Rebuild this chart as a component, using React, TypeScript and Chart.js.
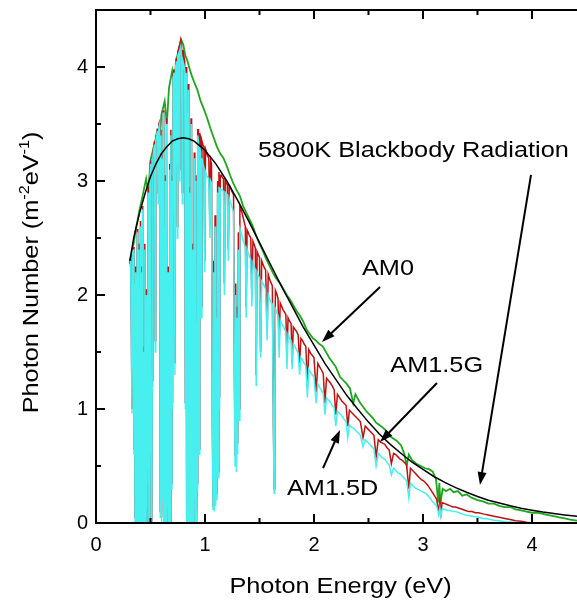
import { useEffect, useRef } from 'react';
import { Chart, registerables } from 'chart.js';

Chart.register(...registerables);

const FONT = '"Liberation Sans", Arial, Helvetica, sans-serif';
const STRETCH = 1.15;

// ---- axis ticks ----
const xMajorTicks = [0, 1, 2, 3, 4];
const xMinorTicks = [0.5, 1.5, 2.5, 3.5];
const yMajorTicks = [0, 1, 2, 3, 4];
const yMinorTicks = [0.5, 1.5, 2.5, 3.5];
const xRange = [0, 4.413];
const yRange = [0, 4.5];

// ---- 5800K blackbody ----
const bbEnergy = [0.31, 0.35, 0.4, 0.45, 0.5, 0.55, 0.6, 0.65, 0.7, 0.75, 0.8, 0.85, 0.9, 0.95, 1.0, 1.1, 1.2, 1.3, 1.4, 1.5, 1.6, 1.7, 1.8, 1.9, 2.0, 2.1, 2.2, 2.3, 2.4, 2.5, 2.6, 2.7, 2.8, 2.9, 3.0, 3.1, 3.2, 3.3, 3.4, 3.5, 3.6, 3.7, 3.8, 3.9, 4.0, 4.1, 4.2, 4.3, 4.42];
const bbPhotons = [2.3, 2.52, 2.72, 2.89, 3.04, 3.15, 3.24, 3.3, 3.35, 3.37, 3.38, 3.37, 3.35, 3.31, 3.27, 3.15, 3.0, 2.83, 2.65, 2.46, 2.27, 2.08, 1.9, 1.72, 1.56, 1.4, 1.26, 1.12, 1.0, 0.885, 0.78, 0.69, 0.61, 0.533, 0.47, 0.408, 0.356, 0.31, 0.27, 0.233, 0.2, 0.175, 0.151, 0.13, 0.112, 0.096, 0.083, 0.071, 0.059];

// ---- AM0 ----
const am0Energy = [
  0.31, 0.34, 0.37, 0.40, 0.43, 0.46, 0.48, 0.50,
  0.53, 0.56, 0.58, 0.60, 0.63, 0.65, 0.67, 0.70,
  0.72, 0.74, 0.76, 0.78, 0.80, 0.82, 0.84, 0.86,
  0.88, 0.90, 0.93, 0.96, 0.99, 1.02, 1.05, 1.08,
  1.11, 1.14, 1.17, 1.20, 1.23, 1.26, 1.29, 1.32,
  1.35, 1.38, 1.41, 1.44, 1.47, 1.50, 1.53, 1.56,
  1.59, 1.62, 1.65, 1.69, 1.72, 1.75, 1.78, 1.81,
  1.84, 1.87, 1.90, 1.93, 1.96, 1.99, 2.02, 2.05,
  2.08, 2.11, 2.14, 2.17, 2.20, 2.24, 2.27, 2.30,
  2.33, 2.36, 2.38, 2.42, 2.45, 2.48, 2.51, 2.54,
  2.57, 2.60, 2.64, 2.67, 2.70, 2.73, 2.76, 2.80,
  2.83, 2.85, 2.87, 2.90, 2.94, 2.98, 3.02, 3.06,
  3.09, 3.12, 3.14, 3.15, 3.16, 3.18, 3.21, 3.25,
  3.28, 3.32, 3.36, 3.40, 3.45, 3.50, 3.55, 3.60,
  3.65, 3.70, 3.75, 3.80, 3.85, 3.90, 3.95, 4.00,
  4.05, 4.10, 4.15, 4.20, 4.25, 4.30, 4.35, 4.42,
];
const am0Photons = [
  2.28, 2.42, 2.6, 2.75, 2.88, 3.02, 2.9, 3.18,
  3.3, 3.42, 3.3, 3.58, 3.7, 3.5, 3.82, 3.97,
  3.85, 4.08, 4.15, 4.24, 4.2, 4.1, 4.05, 3.98,
  3.92, 3.87, 3.8, 3.7, 3.63, 3.55, 3.46, 3.38,
  3.3, 3.24, 3.2, 3.13, 3.05, 2.98, 2.92, 2.87,
  2.78, 2.72, 2.66, 2.6, 2.52, 2.45, 2.39, 2.32,
  2.26, 2.2, 2.15, 2.1, 2.05, 2.0, 1.96, 1.91,
  1.86, 1.82, 1.77, 1.7, 1.66, 1.62, 1.6, 1.57,
  1.55, 1.5, 1.45, 1.41, 1.37, 1.28, 1.25, 1.22,
  1.18, 1.05, 1.13, 1.06, 1.02, 0.98, 0.95, 0.92,
  0.88, 0.86, 0.83, 0.8, 0.76, 0.74, 0.72, 0.68,
  0.6, 0.5, 0.6, 0.55, 0.52, 0.5, 0.48, 0.47,
  0.45, 0.38, 0.18, 0.35, 0.17, 0.3, 0.28, 0.3,
  0.27, 0.28, 0.24, 0.25, 0.22, 0.2, 0.19, 0.17,
  0.17, 0.15, 0.14, 0.14, 0.12, 0.11, 0.1, 0.09,
  0.09, 0.08, 0.07, 0.06, 0.05, 0.04, 0.03, 0.02,
];

// ---- AM1.5G and AM1.5D (shared energy grid) ----
const groundEnergy = [
  0.310, 0.318, 0.325, 0.330, 0.335, 0.342, 0.348, 0.353,
  0.358, 0.363, 0.368, 0.373, 0.378, 0.383, 0.388, 0.393,
  0.398, 0.403, 0.408, 0.413, 0.418, 0.423, 0.428, 0.433,
  0.438, 0.443, 0.448, 0.453, 0.458, 0.463, 0.468, 0.475,
  0.480, 0.485, 0.490, 0.495, 0.502, 0.508, 0.512, 0.516,
  0.521, 0.530, 0.537, 0.543, 0.548, 0.556, 0.563, 0.570,
  0.576, 0.584, 0.590, 0.596, 0.602, 0.607, 0.612, 0.617,
  0.622, 0.627, 0.632, 0.637, 0.642, 0.647, 0.652, 0.657,
  0.662, 0.667, 0.672, 0.677, 0.682, 0.687, 0.692, 0.697,
  0.702, 0.708, 0.716, 0.724, 0.730, 0.738, 0.745, 0.750,
  0.758, 0.765, 0.770, 0.778, 0.785, 0.792, 0.798, 0.806,
  0.814, 0.820, 0.826, 0.832, 0.837, 0.842, 0.847, 0.852,
  0.857, 0.862, 0.867, 0.872, 0.877, 0.882, 0.887, 0.892,
  0.897, 0.902, 0.907, 0.912, 0.917, 0.922, 0.928, 0.933,
  0.940, 0.946, 0.952, 0.960, 0.966, 0.972, 0.980, 0.990,
  0.998, 1.005, 1.015, 1.025, 1.035, 1.045, 1.052, 1.060,
  1.068, 1.074, 1.080, 1.086, 1.092, 1.098, 1.104, 1.110,
  1.116, 1.122, 1.128, 1.134, 1.140, 1.150, 1.160, 1.170,
  1.178, 1.186, 1.195, 1.205, 1.214, 1.222, 1.232, 1.242,
  1.252, 1.262, 1.270, 1.276, 1.282, 1.288, 1.294, 1.300,
  1.306, 1.312, 1.320, 1.330, 1.340, 1.350, 1.360, 1.370,
  1.378, 1.386, 1.396, 1.408, 1.420, 1.430, 1.440, 1.452,
  1.462, 1.470, 1.478, 1.490, 1.500, 1.510, 1.520, 1.532,
  1.544, 1.556, 1.570, 1.580, 1.592, 1.605, 1.618, 1.628,
  1.634, 1.640, 1.646, 1.658, 1.670, 1.680, 1.690, 1.703,
  1.716, 1.730, 1.742, 1.752, 1.762, 1.776, 1.790, 1.800,
  1.810, 1.825, 1.840, 1.855, 1.868, 1.880, 1.895, 1.910,
  1.925, 1.940, 1.952, 1.968, 1.985, 2.000, 2.020, 2.035,
  2.052, 2.070, 2.085, 2.100, 2.115, 2.132, 2.150, 2.168,
  2.185, 2.200, 2.215, 2.235, 2.255, 2.275, 2.295, 2.310,
  2.325, 2.345, 2.365, 2.385, 2.405, 2.425, 2.450, 2.470,
  2.490, 2.510, 2.530, 2.550, 2.570, 2.590, 2.610, 2.630,
  2.650, 2.670, 2.690, 2.710, 2.730, 2.750, 2.770, 2.790,
  2.810, 2.830, 2.850, 2.870, 2.885, 2.905, 2.925, 2.945,
  2.965, 2.985, 3.005, 3.025, 3.045, 3.065, 3.085, 3.105,
  3.125, 3.145, 3.155, 3.165, 3.175, 3.200, 3.225, 3.250,
  3.275, 3.300, 3.330, 3.360, 3.390, 3.420, 3.450, 3.480,
  3.510, 3.550, 3.600, 3.650, 3.700, 3.750, 3.800, 3.850,
  3.900, 3.950, 4.000, 4.420,
];
const am15dPhotons = [
  2.25, 2.30, 1.60, 0.96, 2.35, 2.40, 0.60, 2.10,
  0, 2.20, 1.20, 0, 2.55, 0, 2.40, 0,
  1.80, 0, 2.60, 0, 2.20, 0, 2.75, 0,
  1.50, 0, 2.40, 0, 0, 2.00, 0, 0,
  2.90, 0, 0, 3.05, 3.15, 0.80, 0, 1.20,
  3.20, 3.28, 3.32, 1.50, 3.35, 3.40, 3.44, 2.80,
  3.47, 3.50, 0.05, 3.40, 0, 3.20, 0.20, 3.60,
  0, 2.60, 0, 3.00, 0, 3.50, 0, 0,
  2.20, 0, 0, 3.10, 0, 3.40, 0.30, 3.00,
  1.00, 3.90, 3.95, 1.30, 4.00, 4.05, 2.50, 4.10,
  4.12, 3.00, 4.15, 4.18, 4.10, 2.80, 4.05, 4.02,
  3.98, 1.00, 3.95, 0, 3.60, 0, 3.80, 0,
  0, 2.90, 0, 3.50, 0, 0, 2.40, 0,
  0, 3.20, 0, 0, 3.00, 0, 0.30, 3.40,
  3.35, 0.60, 3.30, 3.25, 1.80, 3.20, 3.15, 3.12,
  2.20, 3.08, 3.05, 3.03, 3.02, 2.50, 3.00, 2.98,
  0.80, 0.12, 2.20, 0.10, 2.60, 0.15, 1.80, 0.20,
  2.90, 0.40, 2.95, 1.00, 2.93, 2.92, 2.92, 2.91,
  2.00, 2.90, 2.89, 2.88, 2.30, 2.85, 2.82, 2.79,
  2.76, 2.72, 1.20, 0.50, 2.00, 0.45, 1.80, 0.60,
  2.40, 0.90, 2.58, 2.55, 2.52, 2.48, 2.45, 2.42,
  1.80, 2.40, 2.37, 2.34, 2.31, 1.90, 2.28, 2.25,
  2.22, 1.20, 2.20, 2.17, 2.15, 1.45, 2.12, 2.10,
  2.08, 2.05, 1.60, 2.00, 1.97, 1.94, 1.92, 0.80,
  0.26, 1.20, 1.88, 1.85, 1.82, 1.45, 1.78, 1.75,
  1.73, 1.70, 1.68, 1.35, 1.65, 1.62, 1.60, 1.35,
  1.57, 1.55, 1.52, 1.49, 1.30, 1.45, 1.43, 1.40,
  1.38, 1.10, 1.35, 1.32, 1.30, 1.28, 1.05, 1.22,
  1.19, 1.16, 1.14, 0.95, 1.10, 1.08, 1.06, 1.03,
  1.01, 0.85, 0.98, 0.96, 0.94, 0.91, 0.89, 0.75,
  0.86, 0.84, 0.83, 0.81, 0.79, 0.77, 0.67, 0.73,
  0.71, 0.69, 0.67, 0.65, 0.50, 0.61, 0.59, 0.57,
  0.56, 0.53, 0.51, 0.42, 0.48, 0.46, 0.44, 0.43,
  0.41, 0.39, 0.37, 0.22, 0.35, 0.33, 0.31, 0.30,
  0.29, 0.28, 0.27, 0.26, 0.24, 0.22, 0.19, 0.17,
  0.15, 0.07, 0.13, 0.06, 0.12, 0.12, 0.11, 0.11,
  0.10, 0.10, 0.09, 0.08, 0.07, 0.065, 0.06, 0.055,
  0.05, 0.04, 0.035, 0.025, 0.02, 0.012, 0.008, 0.005,
  0.003, 0, 0, 0,
];
const am15gPhotons = [
  2.27, 2.32, 1.65, 1.00, 2.38, 2.42, 0.65, 2.15,
  0.05, 2.25, 1.25, 0, 2.58, 0, 2.45, 0,
  1.85, 0, 2.65, 0, 2.25, 0, 2.78, 0,
  1.55, 0, 2.45, 0, 0, 2.05, 0, 0,
  2.95, 0, 0, 3.10, 3.18, 0.85, 0, 1.25,
  3.24, 3.30, 3.35, 1.60, 3.38, 3.42, 3.46, 2.90,
  3.50, 3.52, 0.10, 3.45, 0.05, 3.25, 0.25, 3.62,
  0, 2.65, 0, 3.05, 0, 3.55, 0, 0,
  2.25, 0, 0, 3.15, 0, 3.45, 0.35, 3.05,
  1.05, 3.93, 3.98, 1.40, 4.03, 4.08, 2.60, 4.13,
  4.16, 3.10, 4.20, 4.24, 4.20, 2.90, 4.15, 4.10,
  4.05, 1.05, 4.00, 0.05, 3.65, 0, 3.85, 0,
  0, 2.95, 0, 3.55, 0, 0, 2.45, 0,
  0, 3.25, 0, 0, 3.05, 0, 0.35, 3.45,
  3.45, 0.65, 3.42, 3.38, 1.90, 3.35, 3.32, 3.30,
  2.30, 3.28, 3.25, 3.22, 3.20, 2.60, 3.18, 3.15,
  0.85, 0.15, 2.30, 0.15, 2.70, 0.20, 1.90, 0.25,
  3.00, 0.45, 3.08, 1.10, 3.05, 3.05, 3.03, 3.02,
  2.10, 3.00, 2.98, 2.97, 2.40, 2.96, 2.95, 2.92,
  2.90, 2.88, 1.30, 0.60, 2.10, 0.55, 1.90, 0.70,
  2.55, 1.00, 2.78, 2.75, 2.72, 2.68, 2.64, 2.60,
  1.90, 2.57, 2.55, 2.52, 2.50, 2.00, 2.47, 2.44,
  2.41, 1.30, 2.38, 2.35, 2.33, 1.50, 2.30, 2.27,
  2.24, 2.22, 1.70, 2.18, 2.14, 2.11, 2.08, 0.85,
  0.30, 1.30, 2.04, 2.01, 1.97, 1.55, 1.93, 1.90,
  1.87, 1.85, 1.83, 1.45, 1.80, 1.77, 1.75, 1.40,
  1.72, 1.70, 1.68, 1.65, 1.40, 1.62, 1.60, 1.57,
  1.55, 1.20, 1.52, 1.49, 1.47, 1.45, 1.15, 1.40,
  1.37, 1.34, 1.31, 1.05, 1.27, 1.25, 1.23, 1.20,
  1.17, 0.95, 1.13, 1.10, 1.07, 1.05, 1.03, 0.85,
  0.99, 0.97, 0.95, 0.93, 0.91, 0.89, 0.75, 0.85,
  0.83, 0.81, 0.79, 0.77, 0.58, 0.73, 0.71, 0.70,
  0.69, 0.66, 0.64, 0.52, 0.61, 0.60, 0.58, 0.56,
  0.55, 0.53, 0.51, 0.30, 0.48, 0.46, 0.44, 0.42,
  0.40, 0.38, 0.37, 0.35, 0.33, 0.30, 0.27, 0.24,
  0.21, 0.10, 0.19, 0.09, 0.18, 0.17, 0.16, 0.15,
  0.14, 0.14, 0.13, 0.12, 0.11, 0.10, 0.10, 0.09,
  0.09, 0.08, 0.07, 0.06, 0.05, 0.04, 0.03, 0.02,
  0.015, 0.006, 0, 0,
];

// ---- annotations (data coordinates) ----
const annotationLabels = ['5800K Blackbody Radiation', 'AM0', 'AM1.5G', 'AM1.5D'];
const labelX = [1.486, 2.44, 2.70, 1.752];
const labelY = [3.21, 2.175, 1.325, 0.246];
const arrowFromX = [3.991, 2.606, 3.128, 2.083];
const arrowFromY = [3.053, 2.07, 1.228, 0.482];
const arrowToX = [3.523, 2.073, 2.606, 2.239];
const arrowToY = [0.333, 1.588, 0.711, 0.816];

const xTitle = 'Photon Energy (eV)';
const yTitleParts: [string, boolean][] = [
  ['Photon Number (m', false],
  ['-2', true],
  ['eV', false],
  ['-1', true],
  [')', false],
];

function toXY(xs: number[], ys: number[]) {
  const n = Math.min(xs.length, ys.length);
  const out: { x: number; y: number }[] = [];
  for (let i = 0; i < n; i++) out.push({ x: xs[i], y: ys[i] });
  return out;
}

function stretchedText(ctx: CanvasRenderingContext2D, text: string, x: number, y: number, size: number, align: CanvasTextAlign) {
  ctx.save();
  ctx.translate(x, y);
  ctx.scale(STRETCH, 1);
  ctx.font = `${size}px ${FONT}`;
  ctx.textAlign = align;
  ctx.textBaseline = 'alphabetic';
  ctx.fillStyle = '#000';
  ctx.fillText(text, 0, 0);
  ctx.restore();
}

function arrow(ctx: CanvasRenderingContext2D, x1: number, y1: number, x2: number, y2: number) {
  const ang = Math.atan2(y2 - y1, x2 - x1);
  const headLen = 13;
  const headHalf = 4.5;
  ctx.save();
  ctx.strokeStyle = '#000';
  ctx.fillStyle = '#000';
  ctx.lineWidth = 2;
  ctx.beginPath();
  ctx.moveTo(x1, y1);
  ctx.lineTo(x2 - Math.cos(ang) * (headLen - 2), y2 - Math.sin(ang) * (headLen - 2));
  ctx.stroke();
  ctx.beginPath();
  ctx.moveTo(x2, y2);
  ctx.lineTo(x2 - Math.cos(ang) * headLen + Math.sin(ang) * headHalf, y2 - Math.sin(ang) * headLen - Math.cos(ang) * headHalf);
  ctx.lineTo(x2 - Math.cos(ang) * headLen - Math.sin(ang) * headHalf, y2 - Math.sin(ang) * headLen + Math.cos(ang) * headHalf);
  ctx.closePath();
  ctx.fill();
  ctx.restore();
}

const decorPlugin = {
  id: 'decor',
  afterDatasetsDraw(chart: any) {
    const ctx: CanvasRenderingContext2D = chart.ctx;
    const a = chart.chartArea;
    const xs = chart.scales.x;
    const ys = chart.scales.y;
    ctx.save();
    ctx.strokeStyle = '#000';
    ctx.lineWidth = 2;
    ctx.beginPath();
    ctx.moveTo(a.right + 2, a.top);
    ctx.lineTo(a.left, a.top);
    ctx.lineTo(a.left, a.bottom);
    ctx.lineTo(a.right + 2, a.bottom);
    ctx.stroke();
    ctx.beginPath();
    const major = 9;
    const minor = 5;
    for (const v of xMajorTicks) {
      const p = xs.getPixelForValue(v);
      ctx.moveTo(p, a.bottom); ctx.lineTo(p, a.bottom - major);
      ctx.moveTo(p, a.top); ctx.lineTo(p, a.top + major);
    }
    for (const v of xMinorTicks) {
      const p = xs.getPixelForValue(v);
      ctx.moveTo(p, a.bottom); ctx.lineTo(p, a.bottom - minor);
      ctx.moveTo(p, a.top); ctx.lineTo(p, a.top + minor);
    }
    for (const v of yMajorTicks) {
      const p = ys.getPixelForValue(v);
      ctx.moveTo(a.left, p); ctx.lineTo(a.left + major, p);
    }
    for (const v of yMinorTicks) {
      const p = ys.getPixelForValue(v);
      ctx.moveTo(a.left, p); ctx.lineTo(a.left + minor, p);
    }
    ctx.stroke();
    ctx.restore();

    // annotations
    for (let i = 0; i < annotationLabels.length; i++) {
      stretchedText(ctx, annotationLabels[i], xs.getPixelForValue(labelX[i]), ys.getPixelForValue(labelY[i]), 22, 'left');
      arrow(ctx, xs.getPixelForValue(arrowFromX[i]), ys.getPixelForValue(arrowFromY[i]), xs.getPixelForValue(arrowToX[i]), ys.getPixelForValue(arrowToY[i]));
    }

    // x title
    stretchedText(ctx, xTitle, (a.left + a.right) / 2 + 4, chart.height - 8, 22, 'center');

    // y title with superscripts
    const big = 22;
    const small = 14;
    ctx.save();
    let total = 0;
    for (const [t, sup] of yTitleParts) {
      ctx.font = `${sup ? small : big}px ${FONT}`;
      total += ctx.measureText(t).width * STRETCH;
    }
    ctx.translate(38, (a.top + a.bottom) / 2 + 6);
    ctx.rotate(-Math.PI / 2);
    let cx = -total / 2;
    ctx.fillStyle = '#000';
    ctx.textBaseline = 'alphabetic';
    ctx.textAlign = 'left';
    for (const [t, sup] of yTitleParts) {
      ctx.font = `${sup ? small : big}px ${FONT}`;
      const w = ctx.measureText(t).width * STRETCH;
      ctx.save();
      ctx.translate(cx, sup ? -9 : 0);
      ctx.scale(STRETCH, 1);
      ctx.fillText(t, 0, 0);
      ctx.restore();
      cx += w;
    }
    ctx.restore();
  },
};

export default function App() {
  const ref = useRef<HTMLCanvasElement>(null);
  useEffect(() => {
    if (!ref.current) return;
    const tickFont = { size: 20, family: FONT };
    const chart = new Chart(ref.current, {
      type: 'line',
      data: {
        datasets: [
          { label: '5800K Blackbody Radiation', data: toXY(bbEnergy, bbPhotons), borderColor: '#000000', borderWidth: 1.5 },
          { label: 'AM1.5D', data: toXY(groundEnergy, am15dPhotons), borderColor: '#48EFEF', borderWidth: 1.5 },
          { label: 'AM1.5G', data: toXY(groundEnergy, am15gPhotons), borderColor: '#BE1111', borderWidth: 1.5 },
          { label: 'AM0', data: toXY(am0Energy, am0Photons), borderColor: '#1FA51F', borderWidth: 1.8 },
        ],
      },
      options: {
        animation: false,
        responsive: false,
        devicePixelRatio: 1,
        layout: { padding: { top: 10, right: 0, bottom: 0, left: 0 } },
        elements: { point: { radius: 0 }, line: { tension: 0, fill: false } },
        plugins: { legend: { display: false }, tooltip: { enabled: false }, title: { display: false } },
        scales: {
          x: {
            type: 'linear',
            min: xRange[0],
            max: xRange[1],
            grid: { display: false, drawTicks: false },
            border: { display: false },
            ticks: { font: tickFont, color: '#000', padding: 10, maxRotation: 0, autoSkip: false },
            afterBuildTicks: (s: any) => { s.ticks = xMajorTicks.map((v) => ({ value: v })); },
            afterFit: (s: any) => {
              s.height = 78;
              s.paddingLeft = 0; s.paddingRight = 0; s.paddingTop = 0; s.paddingBottom = 0;
            },
          },
          y: {
            type: 'linear',
            min: yRange[0],
            max: yRange[1],
            grid: { display: false, drawTicks: false },
            border: { display: false },
            ticks: { font: tickFont, color: '#000', padding: 8, autoSkip: false },
            afterBuildTicks: (s: any) => { s.ticks = yMajorTicks.map((v) => ({ value: v })); },
            afterFit: (s: any) => {
              s.width = 96;
              s.paddingLeft = 0; s.paddingRight = 0; s.paddingTop = 0; s.paddingBottom = 0;
            },
          },
        },
      } as any,
      plugins: [decorPlugin],
    });
    return () => chart.destroy();
  }, []);
  return (
    <div style={{ position: 'absolute', left: 0, top: 0, width: 577, height: 601, background: '#fff' }}>
      <canvas ref={ref} width={577} height={601} style={{ display: 'block', width: 577, height: 601 }} />
    </div>
  );
}
